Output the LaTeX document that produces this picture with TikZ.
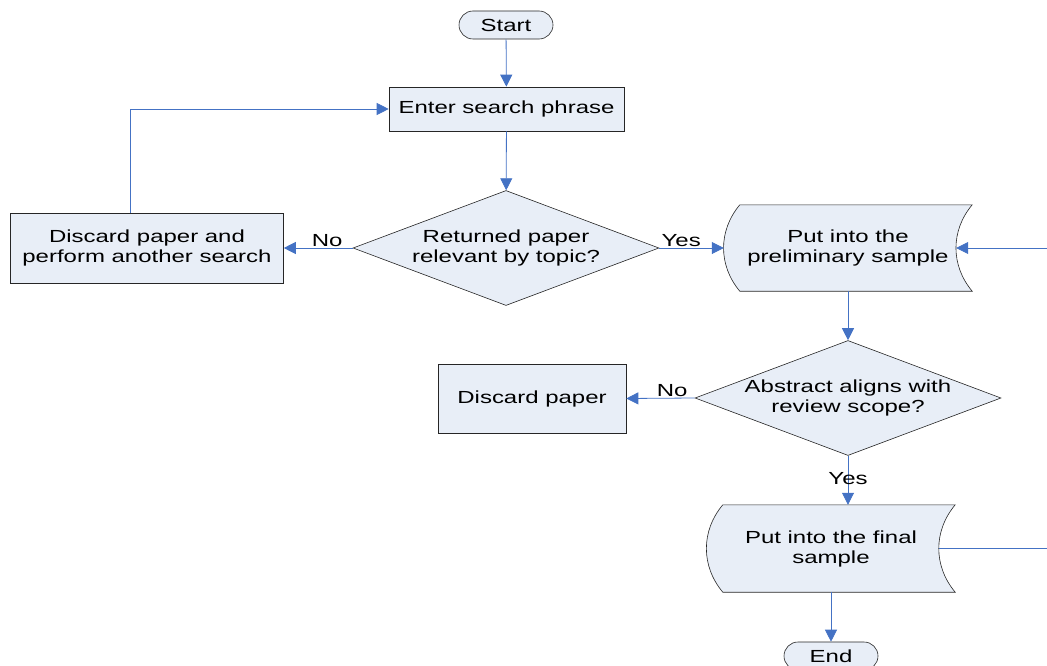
\documentclass[tikz,border=0pt]{standalone}
\usepackage{fontspec}
\setmainfont[FakeStretch=1.37]{Liberation Sans}
\usepackage{tikz}
\usetikzlibrary{arrows.meta,positioning,shapes.geometric,backgrounds}
\usepackage{xcolor}
\definecolor{boxfill}{RGB}{232,238,247}
\definecolor{flowblue}{RGB}{68,114,196}
\newcommand\flowfont{\fontsize{17.5pt}{20pt}\selectfont}

\begin{document}
\begin{tikzpicture}[
  x=1pt,y=-1pt,
  base/.style={draw=black!85,line width=0.6pt,fill=boxfill,align=center,
               font=\flowfont,inner sep=0pt},
  term/.style={base,rounded corners=14pt,minimum width=94pt,minimum height=28pt},
  proc/.style={base,rectangle},
  decision/.style={base,diamond,aspect=2.66,minimum width=306pt,minimum height=115pt},
  stored/.style={align=center,font=\flowfont,inner sep=0pt,
                 minimum width=248pt,minimum height=86pt},
  storedshape/.style={draw=black!85,line width=0.6pt,fill=boxfill},
  flow/.style={draw=flowblue,line width=0.8pt},
  arrow/.style={flow,-{Triangle[length=12pt,width=12pt]}},
  lbl/.style={font=\flowfont,inner sep=1pt}
]
  \useasboundingbox (0,0) rectangle (1047,666);
  \clip (0,0) rectangle (1047,666);

  \node[term] (start) at (506,25) {Start};
  \node[proc,minimum width=235pt,minimum height=44pt] (enter) at (506.5,109) {Enter search phrase};
  \node[decision] (topic) at (506,248) {Returned paper\\relevant by topic?};
  \node[proc,minimum width=273pt,minimum height=70pt] (another) at (147,248) {Discard paper and\\perform another search};
  \node[stored] (prelim) at (848,248) {Put into the\\preliminary sample};
  \node[decision] (scope) at (848,398) {Abstract aligns with\\review scope?};
  \node[proc,minimum width=188pt,minimum height=69pt] (discard) at (532,398.5) {Discard paper};
  \node[stored,minimum height=87pt] (final) at (831,548.5) {Put into the final\\sample};
  \node[term] (end) at (831,656) {End};

  % stored data outlines
  \begin{scope}[on background layer]
    \foreach \n in {prelim,final}
      \draw[storedshape] ([xshift=16pt]\n.north west) -- (\n.north east)
        to[bend right=40] (\n.south east) -- ([xshift=16pt]\n.south west)
        to[bend left=40] ([xshift=16pt]\n.north west) -- cycle;
  \end{scope}

  \coordinate (prelimback) at (1047,248);
  \coordinate (finalout) at (1047,548.5);

  \draw[arrow] (start) -- (enter);
  \draw[arrow] (enter) -- (topic);
  \draw[arrow] (topic.west) -- node[lbl,pos=0.37,above] {No} (another.east);
  \draw[arrow] ([xshift=-17pt]another.north) |- (enter.west);
  \draw[arrow] (topic.east) -- node[lbl,pos=0.34,above] {Yes} (prelim.west);
  \draw[arrow] (prelimback) -- ([xshift=-16pt]prelim.east);
  \draw[arrow] (prelim) -- (scope);
  \draw[arrow] (scope.west) -- node[lbl,pos=0.33,above] {No} (discard.east);
  \draw[arrow] (scope.south) -- node[lbl,pos=0.46] {Yes} (scope.south |- final.north);
  \draw[flow] ([xshift=-16pt]final.east) -- (finalout);
  \draw[arrow] (final) -- (end);
\end{tikzpicture}
\end{document}
